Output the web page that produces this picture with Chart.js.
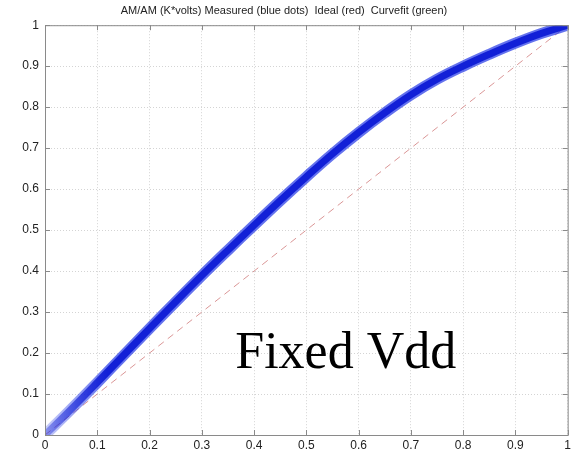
<!DOCTYPE html>
<html>
<head>
<meta charset="utf-8">
<script src="https://cdn.jsdelivr.net/npm/chart.js@4/dist/chart.umd.min.js"></script>
<style>
  html, body { margin: 0; padding: 0; background: #fff; }
  #wrap { width: 574px; height: 454px; }
</style>
</head>
<body>
<div id="wrap"><canvas id="myChart" width="574" height="454"></canvas></div>
<script>
// input amplitude (normalised) and measured output amplitude
const inputLevel = [0, 0.05, 0.1, 0.15, 0.2, 0.25, 0.3, 0.35, 0.4, 0.45, 0.5,
  0.55, 0.6, 0.65, 0.7, 0.75, 0.8, 0.85, 0.9, 0.95, 1];
const measured = [0, 0.063, 0.128, 0.194, 0.26, 0.325, 0.389, 0.451, 0.512, 0.572, 0.63,
  0.686, 0.738, 0.786, 0.83, 0.868, 0.9, 0.929, 0.956, 0.98, 1];
const idealX = [0, 1];
const idealY = [0, 1];
const tickValues = [0, 0.1, 0.2, 0.3, 0.4, 0.5, 0.6, 0.7, 0.8, 0.9, 1];

const toPoints = (xs, ys) => xs.map((x, i) => ({ x: x, y: ys[i] }));
const measuredPts = toPoints(inputLevel, measured);

// fade the band in near the origin, where the dots are sparse
function bandColor(rgb, alpha) {
  return function (c) {
    const chart = c.chart;
    if (!chart.chartArea) return "rgba(" + rgb + "," + alpha + ")";
    const x = chart.scales.x;
    const g = chart.ctx.createLinearGradient(x.getPixelForValue(0), 0, x.getPixelForValue(0.12), 0);
    g.addColorStop(0, "rgba(" + rgb + "," + alpha * 0.35 + ")");
    g.addColorStop(1, "rgba(" + rgb + "," + alpha + ")");
    return g;
  };
}

// frame, inward ticks and the annotation text
const framePlugin = {
  id: "frame",
  afterDraw(chart) {
    const { ctx, chartArea: a, scales } = chart;
    ctx.save();
    ctx.strokeStyle = "#8a8a8a";
    ctx.lineWidth = 1;
    ctx.setLineDash([]);
    ctx.strokeRect(a.left + 0.5, a.top + 0.5, a.right - a.left, a.bottom - a.top);
    ctx.beginPath();
    tickValues.forEach(function (v) {
      const px = Math.round(scales.x.getPixelForValue(v)) + 0.5;
      const py = Math.round(scales.y.getPixelForValue(v)) + 0.5;
      ctx.moveTo(px, a.bottom); ctx.lineTo(px, a.bottom - 5);
      ctx.moveTo(px, a.top); ctx.lineTo(px, a.top + 5);
      ctx.moveTo(a.left, py); ctx.lineTo(a.left + 5, py);
      ctx.moveTo(a.right, py); ctx.lineTo(a.right - 5, py);
    });
    ctx.stroke();

    ctx.fillStyle = "#000";
    ctx.font = '52px "Liberation Serif", "Times New Roman", serif';
    ctx.textBaseline = "alphabetic";
    ctx.textAlign = "left";
    ctx.fillText("Fixed Vdd", scales.x.getPixelForValue(0.364), scales.y.getPixelForValue(0.163));
    ctx.restore();
  }
};

const ctx = document.getElementById("myChart").getContext("2d");
const myChart = new Chart(ctx, {
  type: "scatter",
  data: {
    datasets: [
      {
        label: "Ideal",
        data: toPoints(idealX, idealY),
        showLine: true,
        borderColor: "rgb(218, 150, 150)",
        borderWidth: 1,
        borderDash: [7, 5],
        pointRadius: 0,
        order: 3,
      },
      {
        label: "Measured (spread)",
        data: measuredPts,
        showLine: true,
        tension: 0.4,
        borderColor: bandColor("35, 55, 230", 0.7),
        borderWidth: 11,
        borderCapStyle: "butt",
        pointRadius: 0,
        order: 2,
      },
      {
        label: "Measured",
        data: measuredPts,
        showLine: true,
        tension: 0.4,
        borderColor: bandColor("18, 32, 215", 1),
        borderWidth: 7,
        borderCapStyle: "butt",
        pointRadius: 0,
        order: 1,
      },
    ],
  },
  options: {
    responsive: false,
    animation: false,
    layout: { padding: { left: 0, right: 6, top: 0, bottom: 0 } },
    plugins: {
      legend: { display: false },
      tooltip: { enabled: false },
      title: {
        display: true,
        text: "AM/AM (K*volts) Measured (blue dots)  Ideal (red)  Curvefit (green)",
        color: "#222",
        font: { family: '"Liberation Sans", Arial, sans-serif', size: 11, weight: "normal" },
        padding: { top: 4, bottom: 8 },
      },
    },
    scales: {
      x: {
        type: "linear",
        min: 0,
        max: 1,
        afterBuildTicks: (s) => { s.ticks = tickValues.map((v) => ({ value: v })); },
        afterFit: (s) => { s.height = 19; },
        ticks: {
          color: "#222",
          padding: 3,
          maxRotation: 0,
          font: { family: '"Liberation Sans", Arial, sans-serif', size: 12 },
          callback: (v) => String(v),
        },
        grid: { color: "#d4d4d4", drawTicks: false, tickLength: 0 },
        border: { display: false, dash: [1, 2] },
      },
      y: {
        type: "linear",
        min: 0,
        max: 1,
        afterBuildTicks: (s) => { s.ticks = tickValues.map((v) => ({ value: v })); },
        afterFit: (s) => { s.width = 45; },
        ticks: {
          color: "#222",
          padding: 6,
          font: { family: '"Liberation Sans", Arial, sans-serif', size: 12 },
          callback: (v) => String(v),
        },
        grid: { color: "#d4d4d4", drawTicks: false, tickLength: 0 },
        border: { display: false, dash: [1, 2] },
      },
    },
  },
  plugins: [framePlugin],
});
</script>
</body>
</html>
